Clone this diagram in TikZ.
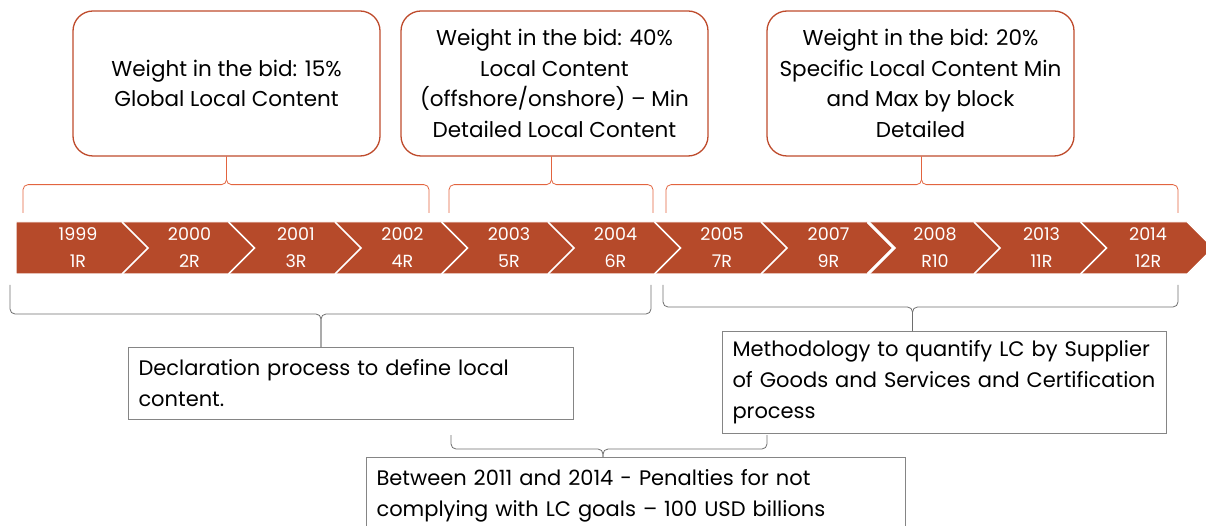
\documentclass[tikz,border=0pt]{standalone}
\usepackage{fontspec}
\setmainfont{Poppins}
\definecolor{rust}{HTML}{B64A2A}
\definecolor{bidline}{HTML}{BE4B2C}
\definecolor{bracered}{HTML}{E2643F}
\definecolor{bracegrey}{HTML}{6E6E6E}
\definecolor{boxgrey}{HTML}{858585}

\begin{document}
\begin{tikzpicture}[x=1pt,y=-1pt,
    bidbox/.style={draw=bidline,line width=1.3pt,rounded corners=20pt,minimum width=307pt,minimum height=145pt,align=center,inner sep=4pt,font=\fontsize{21.5}{30.5}\selectfont},
    notebox/.style={draw=boxgrey,line width=1pt,anchor=north west,align=left,inner xsep=10pt,inner ysep=4pt,font=\fontsize{21}{31}\selectfont},
    yearlabel/.style={text=white,align=center,inner sep=0pt,font=\fontsize{17.5}{27}\selectfont},
    topbrace/.style={draw=bracered,line width=0.8pt,rounded corners=5pt},
    lowbrace/.style={draw=bracegrey,line width=0.8pt,rounded corners=5pt}]
    \useasboundingbox (0,0) rectangle (1206,526);

    % rounds along the timeline
    \fill[rust,draw=white,line width=1pt] (16,222) -- (1187,222) -- (1213,248) -- (1187,274) -- (16,274) -- cycle;
    \foreach \yr/\rd [count=\i] in {1999/1R,2000/2R,2001/3R,2002/4R,2003/5R,2004/6R,2005/7R,2007/9R,2008/R10,2013/11R,2014/12R}{
        \pgfmathsetmacro\tip{148+106.5*(\i-1)}
        \pgfmathsetmacro\cx{\i==1 ? 78 : \tip-65}
        \ifnum\i<11 \draw[white,line width=1.5pt] (\tip-26,222) -- (\tip,248) -- (\tip-26,274);\fi
        \node[yearlabel] (r\i) at (\cx,248) {\yr\\\rd};
    }
    \draw[white,line width=3pt] (868,222) -- (894,248) -- (868,274);

    % weight in the bid
    \node[bidbox] (w15) at (226.5,83.5) {Weight in the bid: 15\%\\Global Local Content};
    \node[bidbox] (w40) at (554.5,83.5) {Weight in the bid: 40\%\\Local Content\\(offshore/onshore) -- Min\\Detailed Local Content};
    \node[bidbox] (w20) at (920.5,83.5) {Weight in the bid: 20\%\\Specific Local Content Min\\and Max by block\\Detailed};

    % notes under the timeline
    \node[notebox,text width=425pt,minimum height=72pt] (decl) at (128,347) {Declaration process to define local\\content.};
    \node[notebox,text width=424pt,minimum height=102pt] (meth) at (722,331) {Methodology to quantify LC by Supplier\\of Goods and Services and Certification\\process};
    \node[notebox,text width=519pt,minimum height=76pt] (pen) at (366,457) {Between 2011 and 2014 - Penalties for not\\complying with LC goals -- 100 USD billions};

    % brace ends
    \coordinate (a1) at (23,213);  \coordinate (a2) at (429,213);
    \coordinate (b1) at (449,213); \coordinate (b2) at (653,213);
    \coordinate (c1) at (666,213); \coordinate (c2) at (1178,213);
    \coordinate (d1) at (10,285);  \coordinate (d2) at (651,285);
    \coordinate (e1) at (663,285); \coordinate (e2) at (1178,285);
    \coordinate (f1) at (451,435); \coordinate (f2) at (767,435);

    \draw[topbrace] (a1) |- ([yshift=-28pt]w15.south) -- (w15.south);
    \draw[topbrace] (a2) |- ([yshift=-28pt]w15.south) -- (w15.south);
    \draw[topbrace] (b1) |- ([xshift=-3pt,yshift=-28pt]w40.south) -- ([xshift=-3pt]w40.south);
    \draw[topbrace] (b2) |- ([xshift=-3pt,yshift=-28pt]w40.south) -- ([xshift=-3pt]w40.south);
    \draw[topbrace] (c1) |- ([xshift=1pt,yshift=-28pt]w20.south) -- ([xshift=1pt]w20.south);
    \draw[topbrace] (c2) |- ([xshift=1pt,yshift=-28pt]w20.south) -- ([xshift=1pt]w20.south);

    \draw[lowbrace] (d1) |- ([xshift=-30pt,yshift=33pt]decl.north) -- ([xshift=-30pt]decl.north);
    \draw[lowbrace] (d2) |- ([xshift=-30pt,yshift=33pt]decl.north) -- ([xshift=-30pt]decl.north);
    \draw[lowbrace] (e1) |- ([xshift=-32pt,yshift=24pt]meth.north) -- ([xshift=-32pt]meth.north);
    \draw[lowbrace] (e2) |- ([xshift=-32pt,yshift=24pt]meth.north) -- ([xshift=-32pt]meth.north);
    \draw[lowbrace] (f1) |- ([xshift=-33pt,yshift=8pt]pen.north) -- ([xshift=-33pt]pen.north);
    \draw[lowbrace] (f2) |- ([xshift=-33pt,yshift=8pt]pen.north) -- ([xshift=-33pt]pen.north);
\end{tikzpicture}
\end{document}
